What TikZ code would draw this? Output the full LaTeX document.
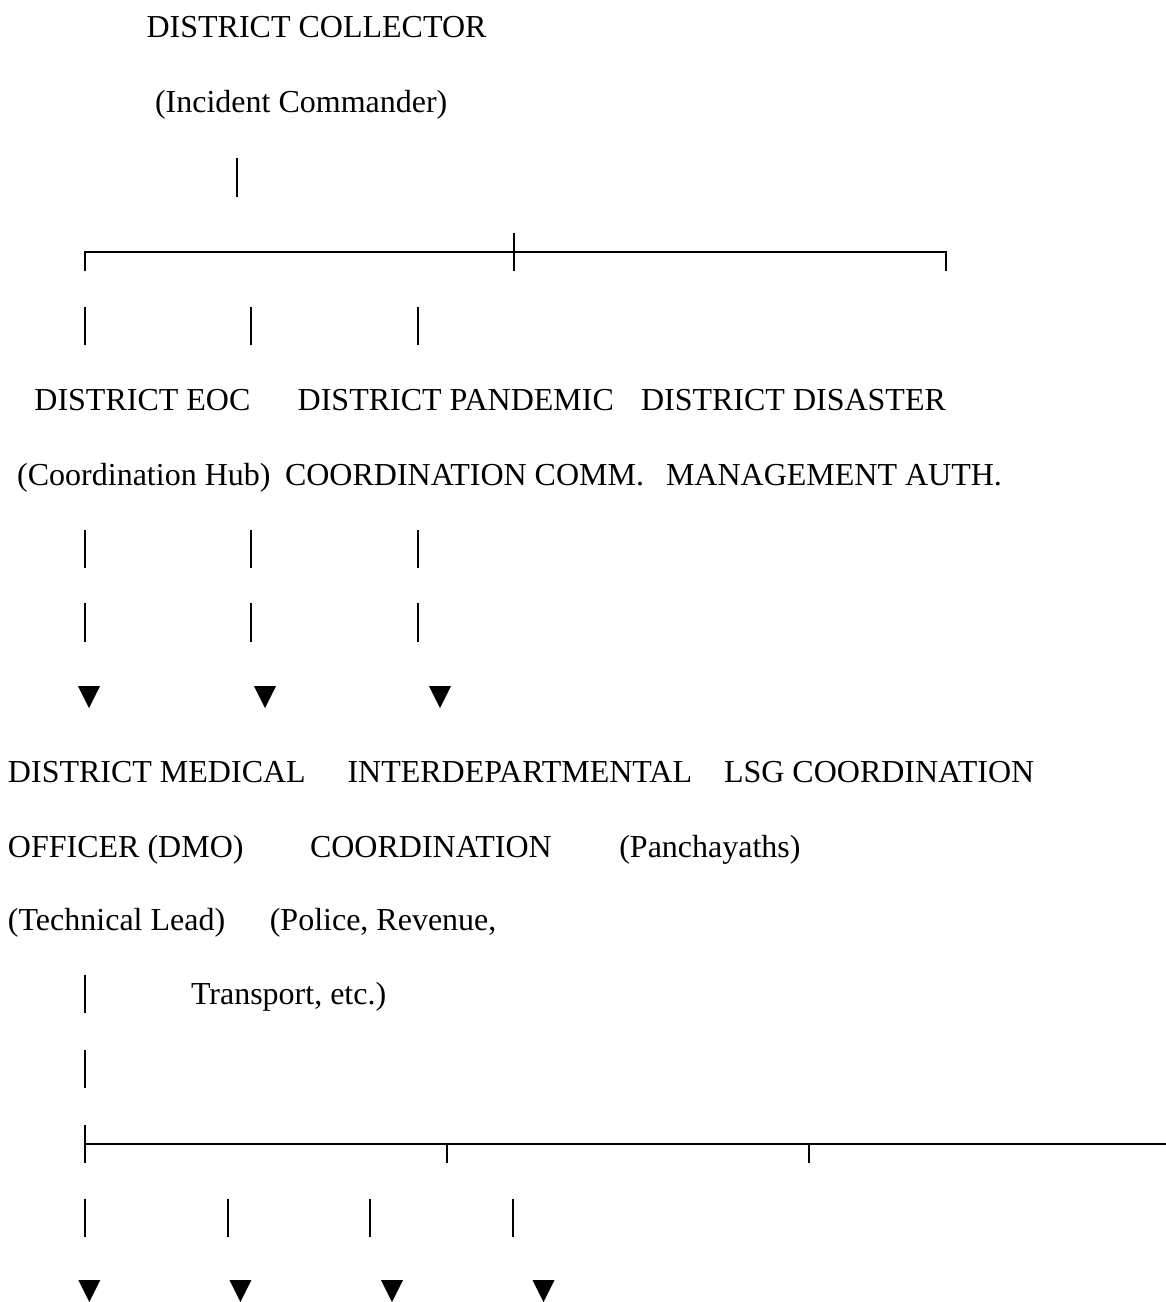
\documentclass[tikz,border=0pt]{standalone}
\usepackage{fontspec}
\setmainfont{Liberation Serif}
\begin{document}
\begin{tikzpicture}[x=0.5pt,y=-0.5pt,
  lbl/.style={anchor=base west,inner sep=0pt,outer sep=0pt,font=\fontsize{16}{16}\selectfont},
  rule/.style={line width=1pt,line cap=butt},
  tri/.style={fill=black}]
\useasboundingbox (0,0) rectangle (1166,1302);
% texts
\node[lbl] (dc) at (146.6,37.7) {DISTRICT COLLECTOR};
\node[lbl] (ic) at (155,112.7) {(Incident Commander)};
\node[lbl] (eoc) at (34.4,410) {DISTRICT EOC};
\node[lbl] (pan) at (297.7,410) {DISTRICT PANDEMIC};
\node[lbl] (dis) at (641,410) {DISTRICT DISASTER};
\node[lbl] (hub) at (17.2,485) {(Coordination Hub)};
\node[lbl] (comm) at (285,485) {COORDINATION COMM.};
\node[lbl] (auth) at (666,485) {MANAGEMENT AUTH.};
\node[lbl] (dmo1) at (8,782.7) {DISTRICT MEDICAL};
\node[lbl] (inter1) at (347.5,782.7) {INTERDEPARTMENTAL};
\node[lbl] (lsg1) at (724,782.7) {LSG COORDINATION};
\node[lbl] (dmo2) at (8,857.3) {OFFICER (DMO)};
\node[lbl] (inter2) at (310,857.3) {COORDINATION};
\node[lbl] (lsg2) at (619.3,857.3) {(Panchayaths)};
\node[lbl] (dmo3) at (8,930.5) {(Technical Lead)};
\node[lbl] (inter3) at (269.8,930.5) {(Police, Revenue,};
\node[lbl] (inter4) at (191,1004) {Transport, etc.)};
% top bar
\draw[rule] (237.3,158) -- (237.3,197);
% first bracket
\draw[rule] (85,271) -- (85,252) -- (945.7,252) -- (945.7,271);
\draw[rule] (514.3,233) -- (514.3,271);
% bars
\foreach \x in {85,251,418.3}{
  \draw[rule] (\x,307) -- (\x,345);
  \draw[rule] (\x,530) -- (\x,568);
  \draw[rule] (\x,603) -- (\x,642);
}
\foreach \x in {89,265,440}{
  \fill[tri] (\x-11,686) -- (\x+11,686) -- (\x,708) -- cycle;
}
\draw[rule] (85.3,975) -- (85.3,1013);
\draw[rule] (85.3,1050) -- (85.3,1088);
% second bracket
\draw[rule] (85.3,1125) -- (85.3,1163);
\draw[rule] (85.3,1144) -- (1166,1144);
\draw[rule] (446.5,1144) -- (446.5,1163);
\draw[rule] (809.4,1144) -- (809.4,1163);
\foreach \x in {85.3,227.6,370,513}{
  \draw[rule] (\x,1199) -- (\x,1237);
}
\foreach \x in {89.3,240.4,392,543.5}{
  \fill[tri] (\x-11,1280) -- (\x+11,1280) -- (\x,1302) -- cycle;
}
\end{tikzpicture}
\end{document}
